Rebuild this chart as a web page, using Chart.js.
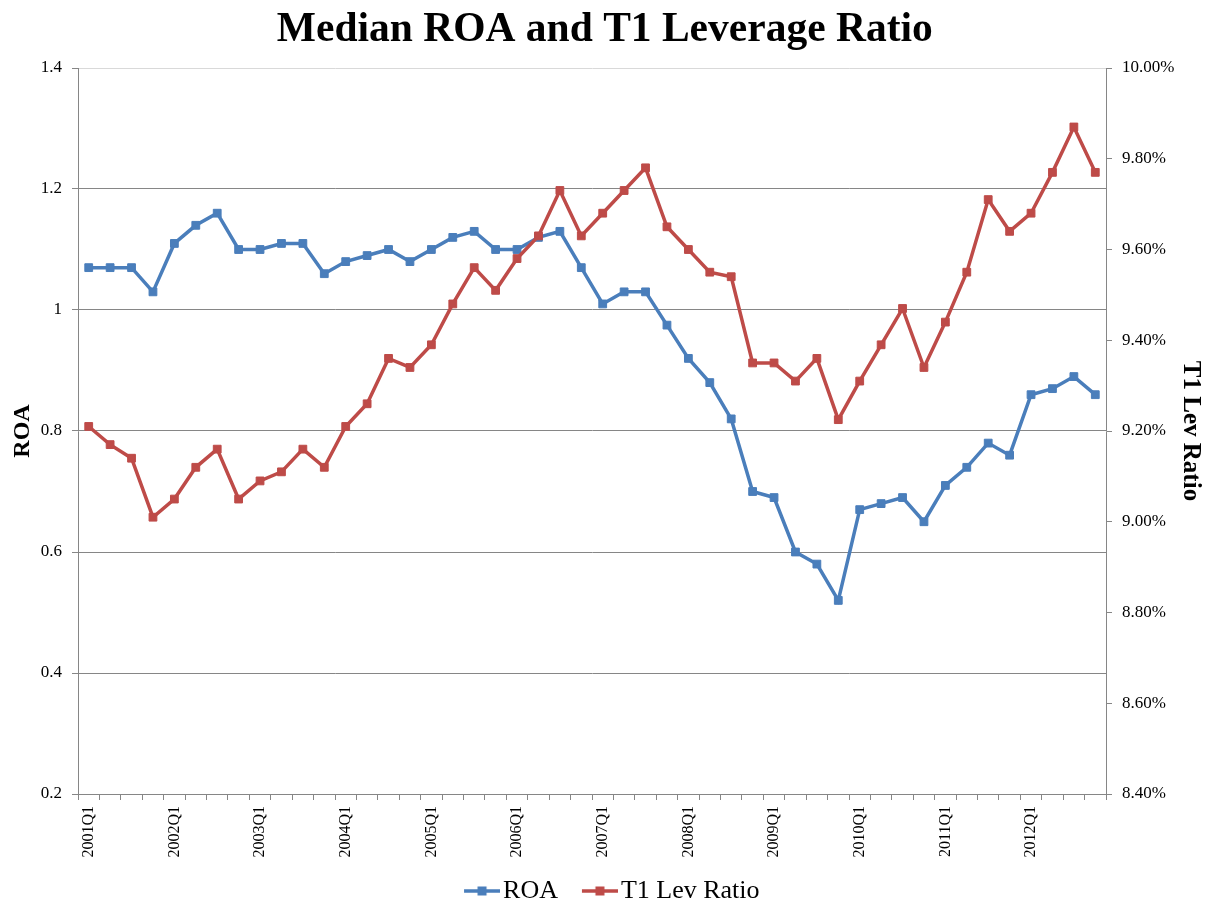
<!DOCTYPE html>
<html>
<head>
<meta charset="utf-8">
<script src="https://cdn.jsdelivr.net/npm/chart.js@4.4.0/dist/chart.umd.min.js"></script>
<style>
	body { margin: 0; background: #fff; }
	#wrap { width: 1213px; height: 910px; }
</style>
</head>
<body>
<div id="wrap"><canvas id="roaChart" width="1213" height="910"></canvas></div>
<script>
const quarters = [];
for (let y = 2001; y <= 2012; y++) {
	for (let q = 1; q <= 4; q++) quarters.push(y + 'Q' + q);
}

const roa = [
	1.07, 1.07, 1.07, 1.03, 1.11, 1.14, 1.16, 1.10, 1.10, 1.11, 1.11, 1.06,
	1.08, 1.09, 1.10, 1.08, 1.10, 1.12, 1.13, 1.10, 1.10, 1.12, 1.13, 1.07,
	1.01, 1.03, 1.03, 0.975, 0.92, 0.88, 0.82, 0.70, 0.69, 0.60, 0.58, 0.52,
	0.67, 0.68, 0.69, 0.65, 0.71, 0.74, 0.78, 0.76, 0.86, 0.87, 0.89, 0.86
];

const t1_lev = [
	9.21, 9.17, 9.14, 9.01, 9.05, 9.12, 9.16, 9.05, 9.09, 9.11, 9.16, 9.12,
	9.21, 9.26, 9.36, 9.34, 9.39, 9.48, 9.56, 9.51, 9.58, 9.63, 9.73, 9.63,
	9.68, 9.73, 9.78, 9.65, 9.60, 9.55, 9.54, 9.35, 9.35, 9.31, 9.36, 9.225,
	9.31, 9.39, 9.47, 9.34, 9.44, 9.55, 9.71, 9.64, 9.68, 9.77, 9.87, 9.77
];

const roa_color = '#4A7EBB';
const t1_color = '#BE4B48';
const grid_color = '#868686';
const serif = "'Liberation Serif', 'Times New Roman', serif";

// legend marker: line with a square in the middle, drawn on the right part of the canvas
const legendMarker = function(color) {
	const c = document.createElement('canvas');
	c.width = 60;
	c.height = 12;
	const g = c.getContext('2d');
	g.strokeStyle = color;
	g.lineWidth = 3.5;
	g.beginPath();
	g.moveTo(24, 6);
	g.lineTo(60, 6);
	g.stroke();
	g.fillStyle = color;
	g.fillRect(37.5, 1.5, 9, 9);
	return c;
};
const markers = [legendMarker(roa_color), legendMarker(t1_color)];

const ctx = document.getElementById('roaChart');
const chart = new Chart(ctx, {
	type: 'line',
	data: {
		labels: quarters,
		datasets: [
			{
				label: 'ROA',
				data: roa,
				yAxisID: 'y',
				borderColor: roa_color,
				backgroundColor: roa_color,
				borderWidth: 3.5,
				pointStyle: 'rect',
				pointRadius: 5.5,
				pointBorderWidth: 1,
				pointBackgroundColor: roa_color,
				pointBorderColor: roa_color,
				order: 1
			},
			{
				label: 'T1 Lev Ratio',
				data: t1_lev,
				yAxisID: 'y1',
				borderColor: t1_color,
				backgroundColor: t1_color,
				borderWidth: 3.5,
				pointStyle: 'rect',
				pointRadius: 5.5,
				pointBorderWidth: 1,
				pointBackgroundColor: t1_color,
				pointBorderColor: t1_color,
				order: 0
			}
		]
	},
	options: {
		responsive: false,
		animation: false,
		layout: { padding: { left: 0, right: 3.4, top: 0, bottom: -4 } },
		plugins: {
			tooltip: { enabled: false },
			title: {
				display: true,
				text: 'Median ROA and T1 Leverage Ratio',
				color: '#000',
				font: { family: serif, size: 41.5, weight: 'bold', lineHeight: 1.2 },
				padding: { top: 5, bottom: 13.2 }
			},
			legend: {
				position: 'bottom',
				labels: {
					color: '#000',
					font: { family: serif, size: 26 },
					usePointStyle: true,
					pointStyleWidth: 40,
					padding: 10,
					sort: (a, b) => a.datasetIndex - b.datasetIndex,
					generateLabels: function(chart) {
						const items = Chart.defaults.plugins.legend.labels.generateLabels(chart);
						items.forEach(item => { item.pointStyle = markers[item.datasetIndex]; });
						return items;
					}
				}
			}
		},
		scales: {
			x: {
				offset: true,
				afterFit: function(scale) { scale.height = 74; },
				grid: {
					offset: true,
					drawOnChartArea: false,
					drawTicks: true,
					tickLength: 6,
					color: grid_color
				},
				border: { display: true, color: grid_color, width: 1 },
				ticks: {
					autoSkip: false,
					maxRotation: 90,
					minRotation: 90,
					padding: 6,
					color: '#000',
					font: { family: serif, size: 16 },
					callback: function(val, index) {
						return index % 4 === 0 ? this.getLabelForValue(val) : '';
					}
				}
			},
			y: {
				position: 'left',
				min: 0.2,
				max: 1.4,
				afterFit: function(scale) { scale.width = 78; },
				grid: {
					color: function(c) {
						return c.tick && Math.abs(c.tick.value - 1.4) < 1e-6 ? '#D9D9D9' : grid_color;
					},
					tickColor: grid_color,
					tickLength: 6,
					lineWidth: 1
				},
				border: { display: true, color: grid_color, width: 1 },
				ticks: {
					stepSize: 0.2,
					padding: 10,
					color: '#000',
					font: { family: serif, size: 17 },
					callback: v => String(Number(v.toFixed(1)))
				},
				title: {
					display: true,
					text: 'ROA',
					color: '#000',
					font: { family: serif, size: 24, weight: 'bold', lineHeight: 1.2 },
					padding: { top: 8, bottom: 0 }
				}
			},
			y1: {
				position: 'right',
				min: 8.4,
				max: 10.0,
				afterFit: function(scale) { scale.width = 103.6; },
				grid: {
					drawOnChartArea: false,
					color: grid_color,
					tickLength: 6
				},
				border: { display: true, color: grid_color, width: 1 },
				ticks: {
					stepSize: 0.2,
					padding: 10,
					color: '#000',
					font: { family: serif, size: 17 },
					callback: v => v.toFixed(2) + '%'
				},
				title: {
					display: true,
					text: 'T1 Lev Ratio',
					color: '#000',
					font: { family: serif, size: 25, weight: 'bold', lineHeight: 1.2 },
					padding: { top: 4.6, bottom: 0 }
				}
			}
		}
	}
});
</script>
</body>
</html>
